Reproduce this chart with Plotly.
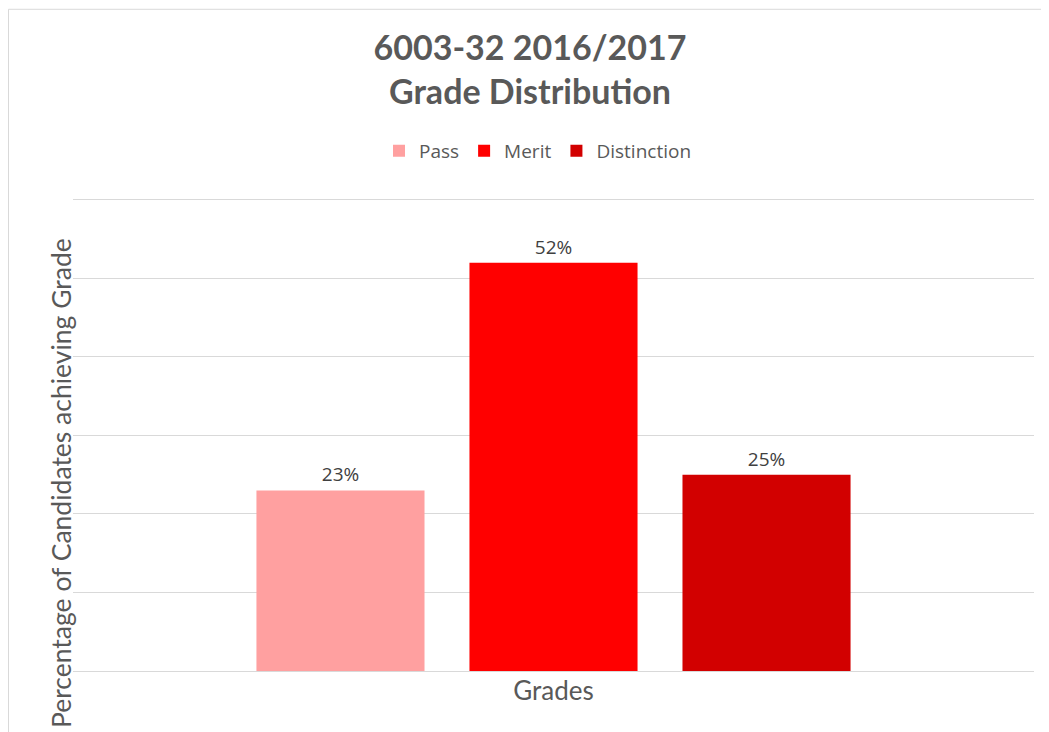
import plotly.graph_objects as go

categories = ["Grades"]
series_names = ["Pass", "Merit", "Distinction"]
series_values = [0.23, 0.52, 0.25]
series_labels = ["23%", "52%", "25%"]
colors = ["#FFA0A0", "#FF0000", "#D20000"]

W, H = 1049, 732
YMAX = 0.61
L, R, B = 65, 1026, 663
ph = 785.0 * YMAX
T = B - ph
pw = R - L

fig = go.Figure()
for name, v, lab, c in zip(series_names, series_values, series_labels, colors):
    fig.add_trace(go.Bar(
        x=categories, y=[v], name=name, marker_color=c, marker_line_width=0,
        text=[lab], textposition="outside", cliponaxis=False,
        textfont=dict(family="Open Sans", size=19, color="#404040"),
    ))

fig.update_layout(
    width=W, height=H,
    margin=dict(l=L, r=W - R, t=T, b=H - B, pad=0),
    paper_bgcolor="white", plot_bgcolor="white",
    barmode="group", bargap=0.335, bargroupgap=0.211,
    showlegend=True,
    legend=dict(orientation="h", x=(530 - L) / pw, xanchor="center", y=(B - 143) / ph, yanchor="middle",
                font=dict(family="Open Sans", size=19, color="#595959"),
                itemwidth=30, traceorder="normal"),
    title=dict(text="<b>6003-32 2016/2017<br>Grade Distribution</b>", x=(522 - L) / pw, xanchor="center",
               xref="paper", y=1 - 51.5 / H, yanchor="middle",
               font=dict(family="Lato", size=34, color="#595959")),
    xaxis=dict(showgrid=False, showline=True, linecolor="#D9D9D9", linewidth=1,
               tickfont=dict(family="Lato", size=26, color="#595959"), ticks="",
               ticklabelstandoff=-3),
    yaxis=dict(range=[0, YMAX], dtick=0.1, showgrid=True, gridcolor="#D9D9D9", gridwidth=1,
               showticklabels=False, zeroline=False, showline=False),
    annotations=[dict(text="Percentage of Candidates achieving Grade", textangle=-90,
                      xref="paper", yref="paper", x=(53 - L) / pw, y=(B - 475) / ph,
                      xanchor="center", yanchor="middle", showarrow=False,
                      font=dict(family="Lato", size=26.5, color="#595959"))],
    shapes=[dict(type="rect", xref="paper", yref="paper",
                 x0=(0.5 - L) / pw, x1=(1100 - L) / pw,
                 y0=(B - 800) / ph, y1=(B - 1.5) / ph,
                 line=dict(color="#D9D9D9", width=1), layer="below")],
)

fig.write_html("out.html")
